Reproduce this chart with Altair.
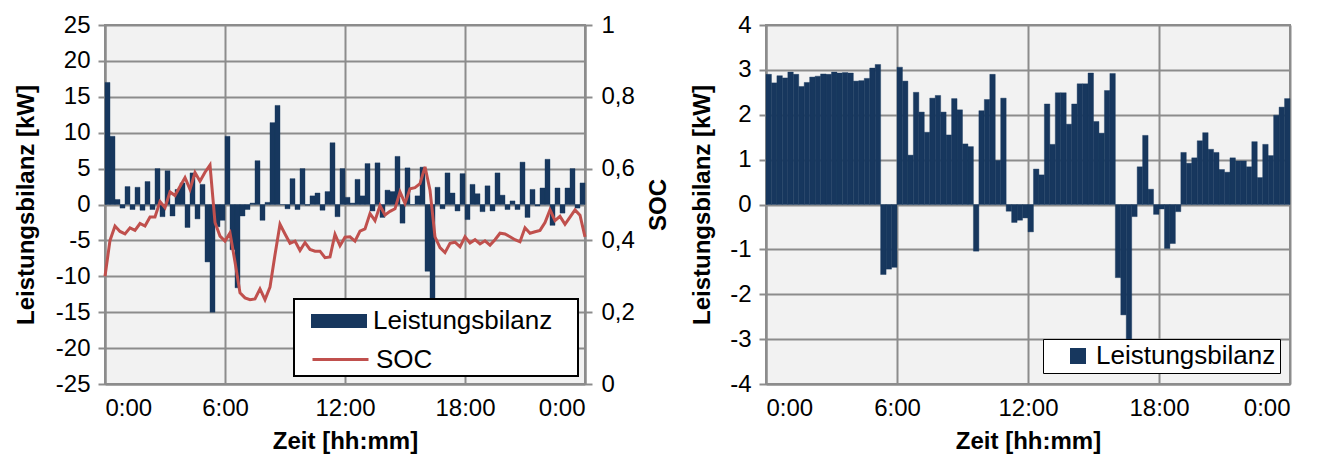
import altair as alt
import pandas as pd

# quarter-hour slot boundaries (hours)
slot_hours = [i * 0.25 for i in range(97)]

# left chart: Leistungsbilanz [kW] per quarter hour
left_power = [17.0, 9.5, 0.7, -0.5, 2.5, -0.7, 2.4, -0.8, 3.2, -0.7,
              5.0, -1.7, 4.7, -1.6, 2.1, 3.0, -3.2, 4.4, -2.0, 2.8,
              -8.0, -15.0, -3.1, -2.2, 9.5, -6.3, -11.6, -1.6, -0.7, 0.2,
              6.1, -2.2, 0.3, 11.4, 13.8, 0.0, -0.6, 3.6, -0.7, 5.0,
              -0.1, 1.2, 1.6, -0.8, 1.8, 8.6, -1.7, 5.0, 1.0, 0.2,
              3.5, 1.2, 5.7, -0.9, 5.8, -1.8, 2.0, 1.8, 6.7, -2.6,
              5.1, 0.0, 1.2, 5.2, -9.3, -13.5, 2.4, -0.6, 4.4, 1.6,
              -0.9, 4.3, -2.1, 2.8, 1.5, -1.0, 2.6, -0.9, 4.4, 1.3,
              -0.7, 0.5, -0.7, 5.9, -1.8, 2.1, -0.2, 2.3, 6.3, -2.9,
              2.3, -1.2, 2.3, 5.0, -0.5, 3.0]

# state of charge at each quarter-hour boundary
soc = [0.30, 0.40, 0.44, 0.425, 0.418, 0.435, 0.428, 0.447, 0.440, 0.465,
       0.465, 0.508, 0.491, 0.535, 0.525, 0.55, 0.575, 0.542, 0.589, 0.565,
       0.59, 0.61, 0.45, 0.412, 0.398, 0.421, 0.34, 0.254, 0.240, 0.235,
       0.237, 0.265, 0.235, 0.27, 0.36, 0.445, 0.418, 0.392, 0.398, 0.372,
       0.394, 0.375, 0.37, 0.37, 0.352, 0.354, 0.417, 0.385, 0.409, 0.41,
       0.398, 0.426, 0.432, 0.475, 0.455, 0.497, 0.471, 0.481, 0.488, 0.535,
       0.503, 0.544, 0.547, 0.558, 0.605, 0.54, 0.41, 0.38, 0.366, 0.392,
       0.395, 0.382, 0.41, 0.393, 0.402, 0.39, 0.399, 0.387, 0.402, 0.42,
       0.418, 0.41, 0.402, 0.396, 0.435, 0.42, 0.424, 0.428, 0.45, 0.485,
       0.455, 0.467, 0.445, 0.465, 0.485, 0.47, 0.41]

# right chart: Leistungsbilanz [kW] per quarter hour
right_power = [2.90, 2.71, 2.87, 2.82, 2.95, 2.90, 2.63, 2.72, 2.84, 2.86,
               2.91, 2.90, 2.95, 2.93, 2.94, 2.93, 2.75, 2.76, 2.81, 3.04,
               3.12, -1.56, -1.44, -1.40, 3.06, 2.75, 1.10, 2.50, 2.06, 1.61,
               2.37, 2.43, 2.06, 1.55, 2.36, 2.11, 1.35, 1.29, -1.04, 2.09,
               2.34, 2.90, 0.98, 2.37, -0.15, -0.40, -0.35, -0.30, -0.61, 0.79,
               0.66, 2.24, 1.34, 2.49, 2.49, 1.79, 2.24, 2.69, 2.69, 2.93,
               1.85, 1.59, 2.54, 2.92, -1.63, -2.46, -3.10, -0.27, 0.84, 1.54,
               0.34, -0.22, -0.10, -0.98, -0.87, -0.16, 1.16, 0.92, 1.04, 1.42,
               1.60, 1.23, 1.16, 0.78, 0.72, 1.04, 0.97, 0.97, 0.84, 1.40,
               0.60, 1.34, 1.09, 1.99, 2.17, 2.36]

x_ticks = [0, 6, 12, 18, 24]
left_ticks = [-25, -20, -15, -10, -5, 0, 5, 10, 15, 20, 25]
soc_ticks = [0, 0.2, 0.4, 0.6, 0.8, 1]
right_ticks = [-4, -3, -2, -1, 0, 1, 2, 3, 4]

NAVY = "#17375E"
RED = "#C0504D"
GRID = "#8C8C8C"
FONT = "Liberation Sans"

df_left = pd.DataFrame({"start": slot_hours[:-1], "end": slot_hours[1:],
                        "value": left_power, "series": "Leistungsbilanz"})
df_soc = pd.DataFrame({"start": slot_hours, "soc": soc, "series2": "SOC"})
df_right = pd.DataFrame({"start": slot_hours[:-1], "end": slot_hours[1:],
                         "value": right_power, "series3": "Leistungsbilanz"})

x_axis = alt.Axis(values=x_ticks, labelExpr="(datum.value % 24) + ':00'",
                  title="Zeit [hh:mm]", grid=True, tickSize=0, labelPadding=12,
                  titlePadding=9)
x_scale = alt.Scale(domain=[0, 24], nice=False, zero=False)

bars_left = alt.Chart(df_left).mark_bar(color=NAVY, stroke=NAVY, strokeWidth=0.4).encode(
    x=alt.X("start:Q", scale=x_scale, axis=x_axis),
    x2="end:Q",
    y=alt.Y("value:Q", scale=alt.Scale(domain=[-25, 25], nice=False),
            axis=alt.Axis(values=left_ticks, title="Leistungsbilanz [kW]",
                          labelExpr="'' + datum.value",
                          orient="left", grid=True, titlePadding=17)),
    y2=alt.datum(0),
    color=alt.Color("series:N",
                    scale=alt.Scale(domain=["Leistungsbilanz"], range=[NAVY]),
                    legend=alt.Legend(title=None, orient="none", legendX=206, legendY=268,
                                      symbolType="M-1,-0.25H1V0.25H-1Z", symbolSize=3136,
                                      symbolStrokeWidth=0, labelFontSize=26, labelOffset=6,
                                      labelLimit=400, padding=0)),
)

line_soc = alt.Chart(df_soc).mark_line(strokeWidth=3).encode(
    x=alt.X("start:Q", scale=x_scale, axis=x_axis),
    y=alt.Y("soc:Q", scale=alt.Scale(domain=[0, 1], nice=False),
            axis=alt.Axis(values=soc_ticks, orient="right", grid=False, title="SOC",
                          titleAngle=270, titleBaseline="top", titlePadding=12,
                          labelPadding=9,
                          labelExpr="datum.value == 0 ? '0' : datum.value == 1 ? '1' : replace(format(datum.value, '.1f'), '.', ',')")),
    stroke=alt.Stroke("series2:N",
                      scale=alt.Scale(domain=["SOC"], range=[RED]),
                      legend=alt.Legend(title=None, orient="none", legendX=206, legendY=305,
                                        symbolType="M-1,0H1", symbolSize=3136,
                                        symbolStrokeWidth=3, labelFontSize=26, labelOffset=6,
                                        labelLimit=400, padding=0)),
)

frame = alt.Chart(df_soc).mark_rect(fill="white", stroke="black", strokeWidth=2).encode(
    x=alt.value(189), x2=alt.value(473), y=alt.value(274), y2=alt.value(351)
)

left = alt.layer(bars_left, line_soc, frame).resolve_scale(y="independent").properties(
    width=480, height=359)

bars_right = alt.Chart(df_right).mark_bar(color=NAVY, stroke=NAVY, strokeWidth=0.4).encode(
    x=alt.X("start:Q", scale=x_scale, axis=x_axis),
    x2="end:Q",
    y=alt.Y("value:Q", scale=alt.Scale(domain=[-4, 4], nice=False),
            axis=alt.Axis(values=right_ticks, title="Leistungsbilanz [kW]",
                          labelExpr="'' + datum.value",
                          orient="left", grid=True, titlePadding=15)),
    y2=alt.datum(0),
    color=alt.Color("series3:N",
                    scale=alt.Scale(domain=["Leistungsbilanz"], range=[NAVY]),
                    legend=alt.Legend(title=None, orient="none", legendX=277, legendY=314,
                                      symbolType="square", symbolSize=256,
                                      symbolStrokeWidth=0, symbolOffset=18,
                                      labelFontSize=26, labelOffset=5, padding=4,
                                      labelLimit=400,
                                      fillColor="white", strokeColor="black",
                                      cornerRadius=0)),
).properties(width=524, height=359)

chart = alt.hconcat(left, bars_right, spacing=17).resolve_scale(
    color="independent").resolve_legend(color="independent").properties(
    padding={"left": 5, "top": 4, "right": 5, "bottom": 2}
).configure_view(fill="#F2F2F2", stroke=GRID, strokeWidth=2).configure_axis(
    labelFont=FONT, labelFontSize=24, labelColor="black",
    titleFont=FONT, titleFontSize=24, titleFontWeight="bold", titleColor="black",
    gridColor=GRID, gridWidth=2, gridOpacity=1,
    domainColor=GRID, domainWidth=2, tickColor=GRID, tickWidth=2, tickSize=7,
    labelPadding=8,
).configure_legend(labelFont=FONT, labelColor="black")

chart.save("out.html", embed_options={"renderer": "svg", "actions": False})
